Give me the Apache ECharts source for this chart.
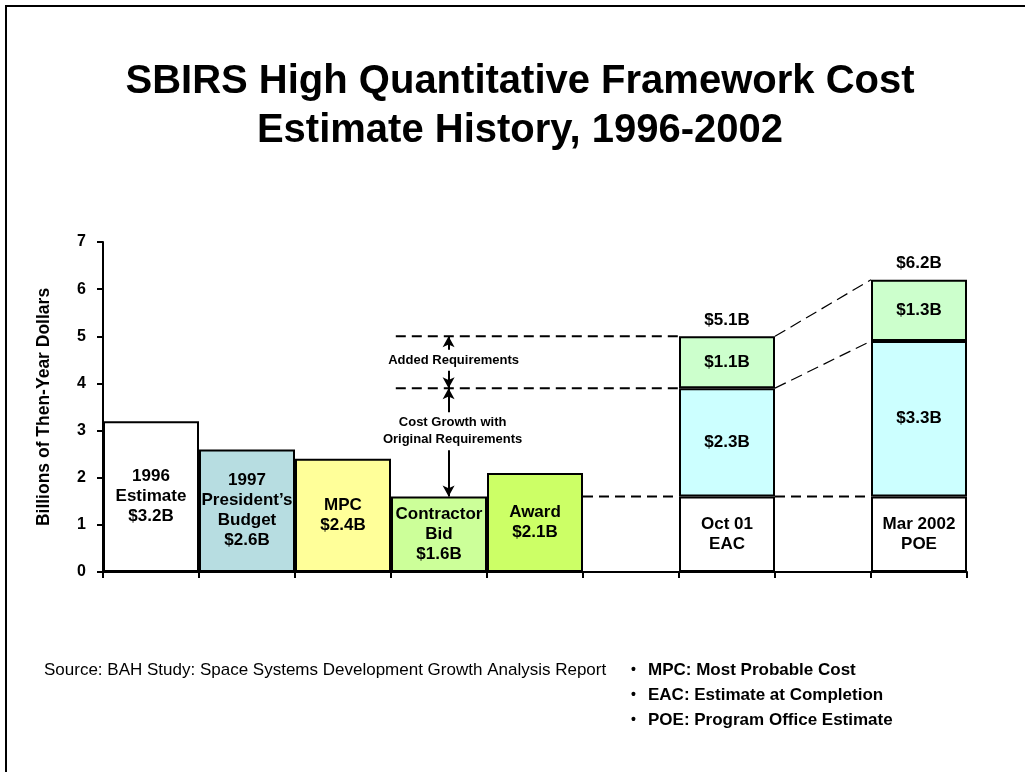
<!DOCTYPE html>
<html>
<head>
<meta charset="utf-8">
<script src="https://cdn.jsdelivr.net/npm/echarts@6/dist/echarts.min.js"></script>
<style>
html,body{margin:0;padding:0;background:#fff;}
#chart{width:1025px;height:772px;}
</style>
</head>
<body>
<div id="chart"></div>
<script>
// ---- data ----
const categories = ['1996\nEstimate', '1997\nPresident\u2019s\nBudget', 'MPC', 'Contractor\nBid', 'Award', '', 'Oct 01\nEAC', '', 'Mar 2002\nPOE'];
const baseValues = [3.2, 2.6, 2.4, 1.6, 2.1, null, 1.6, null, 1.6];
const showBaseAmount = [true, true, true, true, true, false, false, false, false];
const growthValues = [null, null, null, null, null, null, 2.3, null, 3.3];
const addedValues = [null, null, null, null, null, null, 1.1, null, 1.3];
const totalLabels = ['', '', '', '', '', '', '$5.1B', '', '$6.2B'];
const baseColors = ['#FFFFFF', '#B7DDE1', '#FFFF99', '#CCFF99', '#CCFF66', '#FFFFFF', '#FFFFFF', '#FFFFFF', '#FFFFFF'];
const yTicks = [0, 1, 2, 3, 4, 5, 6, 7];
const titleLines = ['SBIRS High Quantitative Framework Cost', 'Estimate History, 1996-2002'];
const sourceText = 'Source: BAH Study: Space Systems Development Growth Analysis Report';
const bulletNotes = ['MPC: Most Probable Cost', 'EAC: Estimate at Completion', 'POE: Program Office Estimate'];
const yAxisName = 'Billions of Then-Year Dollars';
const addedReqText = 'Added Requirements';
const costGrowthText = 'Cost Growth with\nOriginal Requirements';

// ---- derived ----
const iEAC = 6, iPOE = 8, iBid = 3, iAward = 4;
const eacMid = baseValues[iEAC] + growthValues[iEAC];
const eacTop = eacMid + addedValues[iEAC];
const poeMid = baseValues[iPOE] + growthValues[iPOE];
const poeTop = poeMid + addedValues[iPOE];
const floorV = baseValues[iBid];
const capValues = categories.map((c, i) => totalLabels[i] ? 0 : null);

const FONT = '"Liberation Sans", Arial, sans-serif';
const arrowX = 3.6;
const dashLeftX = 3.05;

const chart = echarts.init(document.getElementById('chart'), null, {renderer: 'canvas'});

const barLabel = {
  show: true, position: 'inside', color: '#000', fontFamily: FONT,
  fontWeight: 'bold', fontSize: 17, lineHeight: 20
};
const barItem = {borderColor: '#000', borderWidth: 2};

const option = {
  animation: false,
  backgroundColor: '#fff',
  grid: {left: 103, right: 58, top: 242, bottom: 200, containLabel: false},
  xAxis: [
    {
      type: 'category', data: categories, position: 'bottom',
      axisLine: {lineStyle: {color: '#000', width: 2}},
      axisTick: {show: true, length: 6, lineStyle: {color: '#000', width: 2}},
      axisLabel: {show: false}, splitLine: {show: false}
    },
    {
      type: 'value', min: 0, max: categories.length, show: false
    }
  ],
  yAxis: {
    type: 'value', min: yTicks[0], max: yTicks[yTicks.length - 1], interval: 1,
    name: yAxisName, nameLocation: 'middle', nameGap: 50, nameRotate: 90,
    nameTextStyle: {fontFamily: FONT, fontWeight: 'bold', fontSize: 17.5, color: '#000'},
    axisLine: {show: true, lineStyle: {color: '#000', width: 2}},
    axisTick: {show: true, length: 6, lineStyle: {color: '#000', width: 2}},
    axisLabel: {fontFamily: FONT, fontWeight: 'bold', fontSize: 16, color: '#000', margin: 17},
    splitLine: {show: false}
  },
  series: [
    {
      type: 'bar', name: 'base', stack: 'cost', barWidth: '100%', barGap: '0%', z: 3,
      data: baseValues.map((v, i) => ({value: v, itemStyle: {color: baseColors[i]}})),
      itemStyle: barItem,
      label: Object.assign({}, barLabel, {
        formatter: p => categories[p.dataIndex] + (showBaseAmount[p.dataIndex] ? '\n$' + baseValues[p.dataIndex].toFixed(1) + 'B' : '')
      })
    },
    {
      type: 'bar', name: 'growth', stack: 'cost', barWidth: '100%', z: 3,
      data: growthValues,
      itemStyle: Object.assign({color: '#CCFFFF'}, barItem),
      label: Object.assign({}, barLabel, {formatter: p => '$' + p.value.toFixed(1) + 'B'})
    },
    {
      type: 'bar', name: 'added', stack: 'cost', barWidth: '100%', z: 3,
      data: addedValues,
      itemStyle: Object.assign({color: '#CCFFCC'}, barItem),
      label: Object.assign({}, barLabel, {formatter: p => '$' + p.value.toFixed(1) + 'B'})
    },
    {
      type: 'bar', name: 'totalCap', stack: 'cost', barWidth: '100%', z: 4,
      data: capValues,
      itemStyle: {color: 'rgba(0,0,0,0)', borderWidth: 0},
      label: Object.assign({}, barLabel, {position: 'top', distance: 6, formatter: p => totalLabels[p.dataIndex]})
    },
    {
      type: 'line', name: 'refH', xAxisIndex: 1, z: 1, symbol: 'none', connectNulls: false,
      lineStyle: {color: '#000', width: 2, type: [10, 6]},
      data: [
        [dashLeftX, eacTop], [iEAC, eacTop], null,
        [dashLeftX, eacMid], [iEAC, eacMid], null,
        [iAward + 1, floorV], [iEAC, floorV], null,
        [iEAC + 1, floorV], [iPOE, floorV]
      ],
      markLine: {
        silent: true, symbol: ['arrow', 'arrow'], symbolSize: [9, 11],
        lineStyle: {color: '#000', width: 2, type: 'solid'},
        label: {show: false},
        data: [
          [{coord: [arrowX, eacTop]}, {coord: [arrowX, eacMid]}],
          [{coord: [arrowX, eacMid]}, {coord: [arrowX, floorV]}]
        ]
      }
    },
    {
      type: 'line', name: 'refS', xAxisIndex: 1, z: 1, symbol: 'none', connectNulls: false,
      lineStyle: {color: '#000', width: 1.2, type: [12, 6]},
      data: [
        [iEAC + 1, eacTop], [iPOE, poeTop], null,
        [iEAC + 1, eacMid], [iPOE, poeMid]
      ]
    },
    {
      type: 'scatter', name: 'notes', xAxisIndex: 1, symbolSize: 0, z: 5,
      itemStyle: {color: '#000', opacity: 1},
      data: [
        {value: [arrowX, (eacTop + eacMid) / 2], label: {formatter: addedReqText, offset: [5, -2]}},
        {value: [arrowX, (eacMid + floorV) / 2], label: {formatter: costGrowthText, offset: [4, -11]}}
      ],
      label: {
        show: true, position: 'inside', color: '#000', fontFamily: FONT, fontWeight: 'bold',
        fontSize: 13, lineHeight: 17, backgroundColor: '#fff', padding: [2, 2], align: 'center'
      }
    }
  ],
  graphic: [
    {type: 'polyline', shape: {points: [[6, 772], [6, 6], [1025, 6]]}, style: {stroke: '#000', lineWidth: 2, fill: null}},
    {type: 'text', x: 520, y: 82, style: {text: titleLines[0], font: 'bold 40px ' + FONT, fill: '#000', align: 'center', verticalAlign: 'middle'}},
    {type: 'text', x: 520, y: 131, style: {text: titleLines[1], font: 'bold 40px ' + FONT, fill: '#000', align: 'center', verticalAlign: 'middle'}},
    {type: 'text', x: 44, y: 670, style: {text: sourceText, font: '17px ' + FONT, fill: '#000', align: 'left', verticalAlign: 'middle'}}
  ].concat(bulletNotes.flatMap((t, i) => [
    {type: 'text', x: 631, y: 670 + i * 25, style: {text: '\u2022', font: 'bold 14px ' + FONT, fill: '#000', align: 'left', verticalAlign: 'middle'}},
    {type: 'text', x: 648, y: 670 + i * 25, style: {text: t, font: 'bold 17px ' + FONT, fill: '#000', align: 'left', verticalAlign: 'middle'}}
  ]))
};
chart.setOption(option);
</script>
</body>
</html>
